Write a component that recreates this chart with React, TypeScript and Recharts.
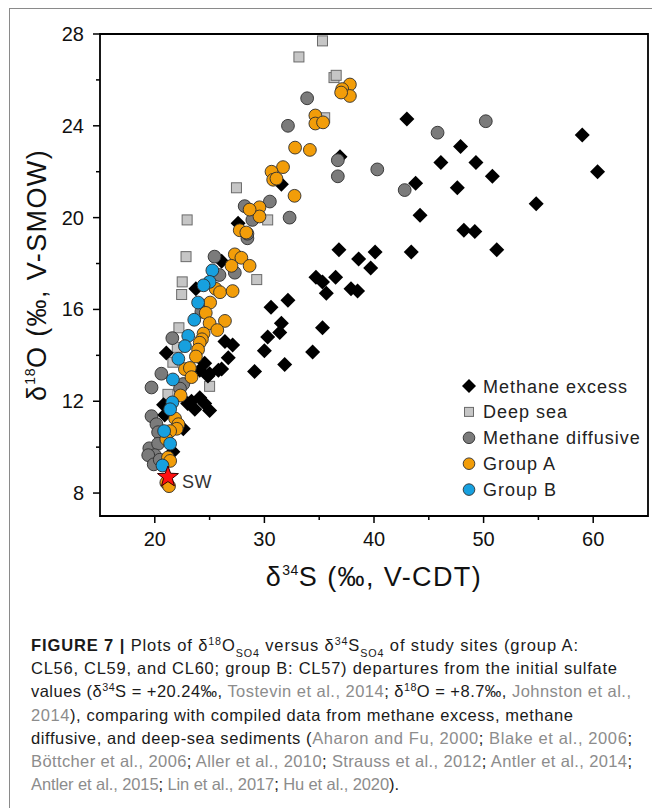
import React from 'react';
import {
  ScatterChart, Scatter, XAxis, YAxis, ReferenceArea, Legend, LabelList,
} from 'recharts';

// δ34S (x) vs δ18O (y), per-mil
const methaneExcess = [
  { x: 43.0, y: 24.3 }, { x: 59.0, y: 23.6 }, { x: 47.9, y: 23.1 }, { x: 46.1, y: 22.4 },
  { x: 49.3, y: 22.4 }, { x: 50.8, y: 21.8 }, { x: 60.4, y: 22.0 }, { x: 43.8, y: 21.5 },
  { x: 47.6, y: 21.3 }, { x: 54.8, y: 20.6 }, { x: 44.2, y: 20.1 }, { x: 48.2, y: 19.45 },
  { x: 49.2, y: 19.4 }, { x: 51.2, y: 18.6 }, { x: 43.4, y: 18.5 },
  { x: 36.9, y: 22.65 }, { x: 31.55, y: 21.45 }, { x: 36.8, y: 18.6 }, { x: 38.6, y: 18.2 },
  { x: 40.1, y: 18.5 }, { x: 39.7, y: 17.8 }, { x: 34.7, y: 17.4 }, { x: 35.3, y: 17.2 },
  { x: 35.65, y: 16.7 }, { x: 36.5, y: 17.4 }, { x: 37.9, y: 16.9 }, { x: 38.5, y: 16.8 },
  { x: 32.15, y: 16.4 }, { x: 30.6, y: 16.1 }, { x: 31.55, y: 15.4 }, { x: 31.4, y: 15.0 },
  { x: 30.3, y: 14.8 }, { x: 35.3, y: 15.2 }, { x: 30.0, y: 14.2 }, { x: 34.4, y: 14.15 },
  { x: 31.85, y: 13.6 }, { x: 29.1, y: 13.3 },
  { x: 27.6, y: 19.75 }, { x: 26.1, y: 18.1 }, { x: 23.75, y: 16.9 }, { x: 21.05, y: 14.1 },
  { x: 26.4, y: 14.6 }, { x: 27.1, y: 14.45 }, { x: 26.7, y: 13.9 }, { x: 24.55, y: 13.65 },
  { x: 26.1, y: 13.4 }, { x: 25.8, y: 13.35 }, { x: 25.0, y: 13.2 }, { x: 24.1, y: 13.35 },
  { x: 24.85, y: 13.1 }, { x: 23.35, y: 12.0 }, { x: 24.1, y: 12.15 }, { x: 24.55, y: 11.9 },
  { x: 23.65, y: 11.65 }, { x: 25.0, y: 11.6 }, { x: 23.0, y: 11.9 }, { x: 20.8, y: 11.85 },
  { x: 20.9, y: 11.4 }, { x: 22.6, y: 10.8 }, { x: 21.65, y: 9.8 },
];

const deepSea = [
  { x: 35.3, y: 27.7 }, { x: 33.15, y: 27.0 }, { x: 36.35, y: 26.1 }, { x: 36.55, y: 26.2 },
  { x: 35.5, y: 24.35 }, { x: 27.45, y: 21.3 }, { x: 22.95, y: 19.9 }, { x: 30.3, y: 19.9 },
  { x: 22.85, y: 18.3 }, { x: 29.3, y: 17.3 }, { x: 22.5, y: 17.2 }, { x: 22.45, y: 16.65 },
  { x: 22.2, y: 15.2 }, { x: 22.05, y: 14.35 }, { x: 21.65, y: 13.7 }, { x: 21.2, y: 12.3 },
  { x: 25.0, y: 12.65 }, { x: 20.5, y: 10.6 },
];

const methaneDiffusive = [
  { x: 33.9, y: 25.2 }, { x: 32.15, y: 24.0 }, { x: 36.7, y: 22.5 }, { x: 36.7, y: 21.8 },
  { x: 50.2, y: 24.2 }, { x: 45.8, y: 23.7 }, { x: 40.3, y: 22.1 }, { x: 42.8, y: 21.2 },
  { x: 30.5, y: 20.7 }, { x: 32.3, y: 20.0 }, { x: 28.2, y: 20.5 }, { x: 28.9, y: 19.9 },
  { x: 28.45, y: 19.1 }, { x: 28.45, y: 19.3 }, { x: 25.45, y: 18.3 }, { x: 27.3, y: 17.6 },
  { x: 25.9, y: 17.5 }, { x: 24.25, y: 15.9 }, { x: 21.6, y: 14.75 }, { x: 20.6, y: 13.2 },
  { x: 19.7, y: 12.6 }, { x: 22.6, y: 12.75 }, { x: 22.3, y: 12.55 }, { x: 19.7, y: 11.35 },
  { x: 20.15, y: 11.0 }, { x: 20.3, y: 10.65 }, { x: 19.5, y: 9.95 }, { x: 20.3, y: 10.15 },
  { x: 20.0, y: 9.65 }, { x: 19.4, y: 9.65 }, { x: 19.9, y: 9.25 }, { x: 20.45, y: 9.45 },
];

const groupA = [
  { x: 37.8, y: 25.8 }, { x: 37.1, y: 25.6 }, { x: 37.8, y: 25.3 }, { x: 37.0, y: 25.45 },
  { x: 34.65, y: 24.45 }, { x: 34.65, y: 24.1 }, { x: 35.35, y: 24.15 }, { x: 32.8, y: 23.05 },
  { x: 34.15, y: 22.95 }, { x: 31.7, y: 22.2 }, { x: 30.65, y: 22.0 }, { x: 30.8, y: 21.65 },
  { x: 31.1, y: 21.7 }, { x: 32.75, y: 20.95 }, { x: 29.55, y: 20.45 }, { x: 29.55, y: 20.05 },
  { x: 28.65, y: 20.35 }, { x: 27.75, y: 19.45 }, { x: 28.35, y: 19.35 }, { x: 27.3, y: 18.4 },
  { x: 27.9, y: 18.25 }, { x: 28.65, y: 17.9 }, { x: 27.0, y: 17.9 }, { x: 25.55, y: 16.9 },
  { x: 25.95, y: 16.75 }, { x: 27.1, y: 16.8 }, { x: 25.05, y: 16.3 }, { x: 24.65, y: 15.85 },
  { x: 25.0, y: 15.4 }, { x: 26.4, y: 15.5 }, { x: 25.7, y: 15.1 }, { x: 24.45, y: 14.95 },
  { x: 24.3, y: 14.7 }, { x: 24.1, y: 14.55 }, { x: 23.95, y: 14.25 }, { x: 23.75, y: 13.95 },
  { x: 22.75, y: 13.4 }, { x: 23.2, y: 13.45 }, { x: 23.35, y: 13.05 }, { x: 22.35, y: 12.25 },
  { x: 21.85, y: 11.25 }, { x: 22.15, y: 11.0 }, { x: 22.0, y: 10.8 }, { x: 21.4, y: 10.7 },
  { x: 21.05, y: 10.35 }, { x: 21.2, y: 9.55 }, { x: 21.4, y: 9.4 }, { x: 21.05, y: 8.45 },
  { x: 21.3, y: 8.3 },
];

const groupB = [
  { x: 25.25, y: 17.7 }, { x: 25.0, y: 17.2 }, { x: 24.45, y: 17.05 }, { x: 23.95, y: 16.3 },
  { x: 23.6, y: 15.55 }, { x: 23.05, y: 14.85 }, { x: 22.75, y: 14.4 }, { x: 22.15, y: 13.85 },
  { x: 21.65, y: 12.95 }, { x: 21.6, y: 11.95 }, { x: 21.4, y: 11.65 }, { x: 20.85, y: 10.7 },
  { x: 21.4, y: 10.15 }, { x: 20.7, y: 9.2 },
];

// initial seawater sulfate
const seawater = [{ x: 21.2, y: 8.7, label: 'SW' }];

const xTicks = [20, 25, 30, 35, 40, 45, 50, 55, 60];
const yTicks = [8, 10, 12, 14, 16, 18, 20, 22, 24, 26, 28];

const legendNames = ['Methane excess', 'Deep sea', 'Methane diffusive', 'Group A', 'Group B'];

const colors = {
  excess: '#000000',
  deepSea: '#C6C6C6',
  deepSeaEdge: '#6A6A6A',
  diffusive: '#7B7B7B',
  groupA: '#F29D09',
  groupB: '#17A0DF',
  dotEdge: '#2E2E2E',
  star: '#FF1010',
  ref: '#8C8C8C',
};

const font = '"Liberation Sans", Arial, Helvetica, sans-serif';

const Diamond = ({ cx, cy, r = 7.5 }) => (
  <path d={`M${cx},${cy - r}L${cx + r},${cy}L${cx},${cy + r}L${cx - r},${cy}Z`} fill={colors.excess} />
);

const Square = ({ cx, cy, s = 10 }) => (
  <rect x={cx - s / 2} y={cy - s / 2} width={s} height={s} fill={colors.deepSea} stroke={colors.deepSeaEdge} strokeWidth={1} />
);

const Dot = ({ cx, cy, fill, r = 6.4 }) => (
  <circle cx={cx} cy={cy} r={r} fill={fill} stroke={colors.dotEdge} strokeWidth={0.9} />
);

const Star = ({ cx, cy, R = 11, r = 4.6 }) => {
  const pts = [];
  for (let i = 0; i < 10; i++) {
    const rad = i % 2 === 0 ? R : r;
    const a = -Math.PI / 2 + (i * Math.PI) / 5;
    pts.push(`${cx + rad * Math.cos(a)},${cy + rad * Math.sin(a)}`);
  }
  return <polygon points={pts.join(' ')} fill={colors.star} stroke="#3a0000" strokeWidth={1} />;
};

const legendMarker = (name, cx, cy) => {
  if (name === 'Methane excess') return <Diamond cx={cx} cy={cy} r={7} />;
  if (name === 'Deep sea') return <Square cx={cx} cy={cy} s={9} />;
  if (name === 'Methane diffusive') return <Dot cx={cx} cy={cy} r={5.8} fill={colors.diffusive} />;
  if (name === 'Group A') return <Dot cx={cx} cy={cy} r={5.8} fill={colors.groupA} />;
  return <Dot cx={cx} cy={cy} r={5.8} fill={colors.groupB} />;
};

const renderLegend = () => (
  <svg width={190} height={132}>
    {legendNames.map((name, i) => (
      <g key={name}>
        {legendMarker(name, 8, 12 + i * 25.9)}
        <text x={22} y={12 + i * 25.9 + 6.5} fontSize={18} fontFamily={font} fill="#222" letterSpacing={1}>
          {name}
        </text>
      </g>
    ))}
  </svg>
);

const XTick = ({ x, y, payload }) => {
  const major = payload.value % 10 === 0;
  return (
    <g>
      <line x1={x} x2={x} y1={y} y2={y + (major ? 7 : 4)} stroke="#000" strokeWidth={1.5} />
      {major && (
        <text x={x} y={y + 30} textAnchor="middle" fontSize={20} fontFamily={font} fill="#111">
          {payload.value}
        </text>
      )}
    </g>
  );
};

const YTick = ({ x, y, payload }) => {
  const major = payload.value % 4 === 0;
  return (
    <g>
      <line x1={x} x2={x - (major ? 7 : 4)} y1={y} y2={y} stroke="#000" strokeWidth={1.5} />
      {major && (
        <text x={x - 16} y={y + 7} textAnchor="end" fontSize={20} fontFamily={font} fill="#111">
          {payload.value}
        </text>
      )}
    </g>
  );
};

const YTitle = ({ viewBox }) => {
  const cx = viewBox.x + 37;
  const cy = viewBox.y + viewBox.height / 2;
  return (
    <text transform={`translate(${cx},${cy}) rotate(-90)`} textAnchor="middle" fontSize={27} fontFamily={font} fill="#111" letterSpacing={1.4} dy={9}>
      δ<tspan fontSize={14} dy={-11} letterSpacing={0.5}>18</tspan><tspan dy={11}>O (‰, V-SMOW)</tspan>
    </text>
  );
};

const XTitle = ({ viewBox }) => {
  const cx = viewBox.x + viewBox.width / 2;
  const cy = viewBox.y + 70;
  return (
    <text x={cx} y={cy} textAnchor="middle" fontSize={27} fontFamily={font} fill="#111" letterSpacing={1.4}>
      δ<tspan fontSize={14} dy={-11} letterSpacing={0.5}>34</tspan><tspan dy={11}>S (‰, V-CDT)</tspan>
    </text>
  );
};

const SwLabel = (props) => {
  const { x, y, width, height, value } = props;
  return (
    <text x={x + width / 2 + 14} y={y + height / 2 + 11} fontSize={18} fontFamily={font} fill="#333" letterSpacing={0.5}>
      {value}
    </text>
  );
};

// caption typesetting helpers
const Sup = ({ children }) => <tspan baselineShift="super" fontSize="65%">{children}</tspan>;
const Sub = ({ children }) => <tspan baselineShift="sub" fontSize="65%">{children}</tspan>;
const Ref = ({ children }) => <tspan fill={colors.ref}>{children}</tspan>;

const captionLines = [
  {
    width: 547,
    body: <><tspan fontWeight="bold">FIGURE 7 |</tspan> Plots of δ<Sup>18</Sup>O<Sub>SO4</Sub> versus δ<Sup>34</Sup>S<Sub>SO4</Sub> of study sites (group A:</>,
  },
  { width: 586, body: <>CL56, CL59, and CL60; group B: CL57) departures from the initial sulfate</> },
  {
    width: 600,
    body: <>values (δ<Sup>34</Sup>S = +20.24‰, <Ref>Tostevin et al., 2014</Ref>; δ<Sup>18</Sup>O = +8.7‰, <Ref>Johnston et al.,</Ref></>,
  },
  { width: 542, body: <><Ref>2014</Ref>), comparing with compiled data from methane excess, methane</> },
  {
    width: 601,
    body: <>diffusive, and deep-sea sediments (<Ref>Aharon and Fu, 2000</Ref>; <Ref>Blake et al., 2006</Ref>;</>,
  },
  {
    width: 601,
    body: <><Ref>Böttcher et al., 2006</Ref>; <Ref>Aller et al., 2010</Ref>; <Ref>Strauss et al., 2012</Ref>; <Ref>Antler et al., 2014</Ref>;</>,
  },
  {
    width: 368,
    body: <><Ref>Antler et al., 2015</Ref>; <Ref>Lin et al., 2017</Ref>; <Ref>Hu et al., 2020</Ref>).</>,
  },
];

export default function App() {
  return (
    <div style={{ position: 'absolute', left: 0, top: 0, width: 652, height: 808, background: '#fff', overflow: 'hidden' }}>
      <div style={{ position: 'absolute', left: 9, top: 8, width: 643, height: 800, borderLeft: '1px solid #8a8a8a', borderTop: '1px solid #8a8a8a' }} />
      <div style={{ position: 'absolute', left: 0, top: 0 }}>
        <ScatterChart width={652} height={600} margin={{ top: 34, right: 4, bottom: 0, left: 0 }}>
          <XAxis
            type="number"
            dataKey="x"
            domain={[15, 65]}
            ticks={xTicks}
            interval={0}
            height={84}
            axisLine={false}
            tickLine={false}
            tickSize={0}
            tickMargin={0}
            tick={<XTick />}
            label={{ content: XTitle }}
          />
          <YAxis
            type="number"
            dataKey="y"
            domain={[7, 28]}
            ticks={yTicks}
            interval={0}
            width={100}
            axisLine={false}
            tickLine={false}
            tickSize={0}
            tickMargin={0}
            tick={<YTick />}
            label={{ content: YTitle }}
          />
          <ReferenceArea x1={15} x2={65} y1={7} y2={28} fill="none" stroke="#000" strokeWidth={1.8} ifOverflow="visible" />
          <Legend
            layout="horizontal"
            verticalAlign="middle"
            align="center"
            content={renderLegend}
            wrapperStyle={{ left: 461, top: 374, width: 190, height: 132 }}
          />
          <Scatter name="Deep sea" data={deepSea} isAnimationActive={false} shape={(p) => <Square cx={p.cx} cy={p.cy} />} />
          <Scatter name="Methane excess" data={methaneExcess} isAnimationActive={false} shape={(p) => <Diamond cx={p.cx} cy={p.cy} />} />
          <Scatter name="Methane diffusive" data={methaneDiffusive} isAnimationActive={false} shape={(p) => <Dot cx={p.cx} cy={p.cy} fill={colors.diffusive} />} />
          <Scatter name="Group A" data={groupA} isAnimationActive={false} shape={(p) => <Dot cx={p.cx} cy={p.cy} fill={colors.groupA} />} />
          <Scatter name="Group B" data={groupB} isAnimationActive={false} shape={(p) => <Dot cx={p.cx} cy={p.cy} fill={colors.groupB} />} />
          <Scatter name="SW" data={seawater} legendType="none" isAnimationActive={false} shape={(p) => <Star cx={p.cx} cy={p.cy} />}>
            <LabelList dataKey="label" content={SwLabel} />
          </Scatter>
        </ScatterChart>
      </div>
      <svg style={{ position: 'absolute', left: 0, top: 600 }} width={652} height={208}>
        {captionLines.map((line, i) => (
          <text
            key={i}
            x={31}
            y={51 + i * 23.2}
            fontSize={16.5}
            fontFamily={font}
            fill="#1a1a1a"
            textLength={line.width}
            lengthAdjust="spacing"
          >
            {line.body}
          </text>
        ))}
      </svg>
    </div>
  );
}
